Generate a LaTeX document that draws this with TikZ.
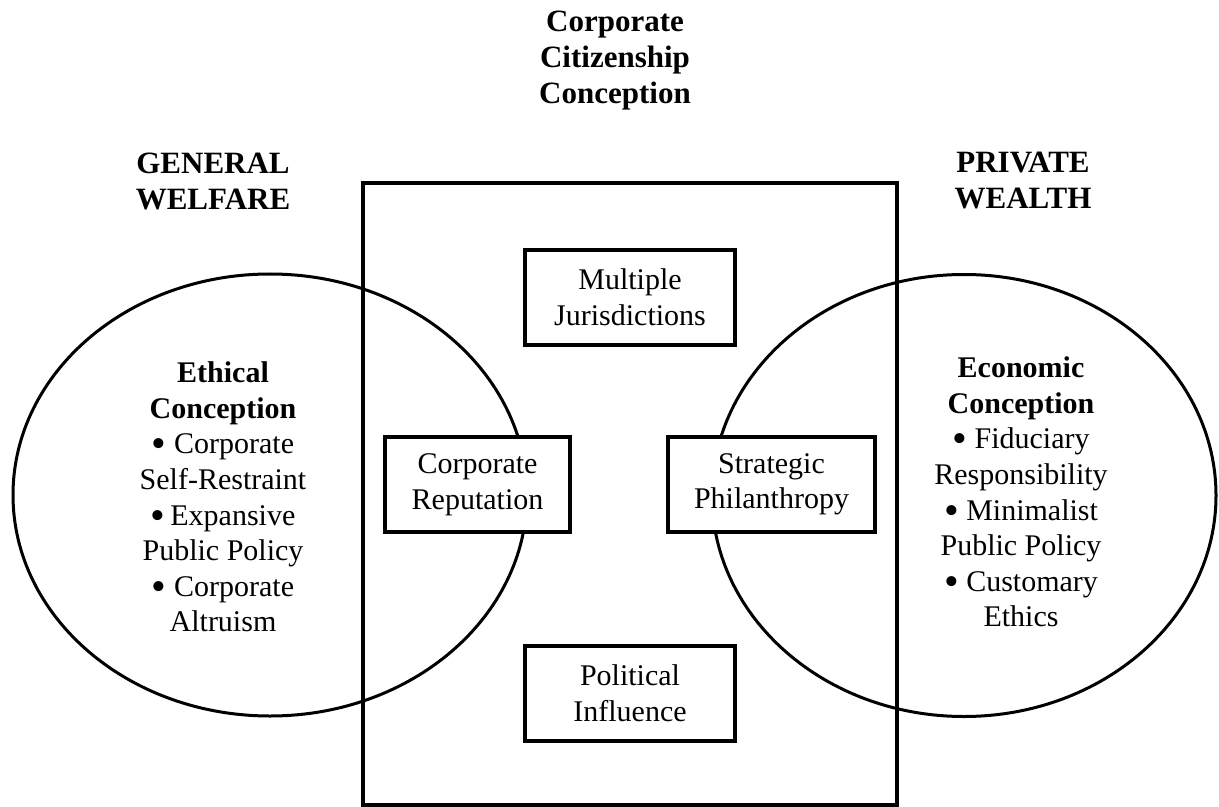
\documentclass[tikz,border=0pt]{standalone}
\usepackage{fontspec}
\setmainfont{Liberation Serif}
\usetikzlibrary{shapes.geometric}

% a heavier list bullet, centred on the x-height
\newcommand{\blt}{\raisebox{-0.3ex}[0pt][0pt]{\scalebox{1.4}{\textbullet}}}

\begin{document}
\begin{tikzpicture}[x=0.5pt, y=-0.5pt,
  every node/.style={inner sep=0pt, outer sep=0pt},
  heading/.style={font=\fontsize{15.5}{18}\selectfont\bfseries, align=center},
  body/.style={font=\fontsize{15}{17.8}\selectfont, align=center},
  frame/.style={draw, line width=2pt, minimum width=267pt, minimum height=311pt},
  ring/.style={draw, ellipse, line width=1.5pt},
  topic/.style={draw, line width=2pt, fill=white, minimum height=47.5pt,
                font=\fontsize{15}{17.8}\selectfont, align=center}
]
  % fixed canvas
  \path[use as bounding box] (0,0) rectangle (1219,807);

  % central corporate citizenship frame
  \node[frame] (citizen) at (630,494) {};

  % the two overlapping conceptions
  \node[ring, minimum width=257pt, minimum height=221pt] (welfare) at (270,495) {};
  \node[ring, minimum width=252pt, minimum height=221pt] (wealth) at (964,495.5) {};

  % topics inside the frame
  \node[topic, minimum width=105pt] (juris) at (630,297.5) {Multiple\\Jurisdictions};
  \node[topic, minimum width=92.5pt] (reput) at (477.5,484.5) {Corporate\\Reputation};
  \node[topic, minimum width=103.5pt] (philan) at (771.5,484.5) {Strategic\\Philanthropy};
  \node[topic, minimum width=105pt] (polit) at (630,693.5) {Political\\Influence};

  % headings
  \node[heading] (title) at (615,61) {Corporate\\Citizenship\\Conception};
  \node[heading] (general) at (213,181) {GENERAL\\WELFARE};
  \node[heading] (private) at (1023,181) {PRIVATE\\WEALTH};

  % contents of the conceptions
  \node[body] (ethical) at (223,497) {\textbf{Ethical}\\\textbf{Conception}\\
    \blt\ Corporate\\Self-Restraint\\\blt\,Expansive\\Public Policy\\
    \blt\ Corporate\\Altruism};
  \node[body] (economic) at (1021,492) {\textbf{Economic}\\\textbf{Conception}\\
    \blt\ Fiduciary\\Responsibility\\\blt\ Minimalist\\Public Policy\\
    \blt\ Customary\\Ethics};
\end{tikzpicture}
\end{document}
